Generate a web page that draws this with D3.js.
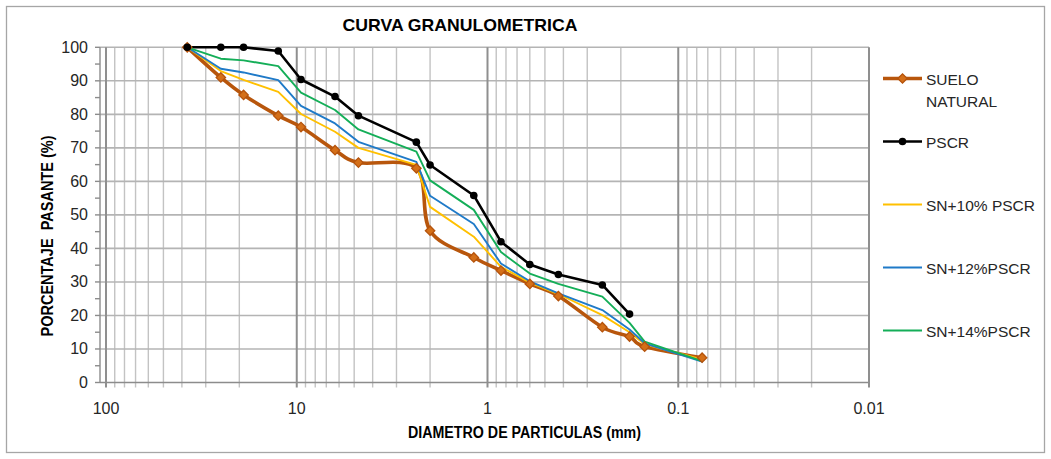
<!DOCTYPE html>
<html>
<head>
<meta charset="utf-8">
<script src="https://cdn.jsdelivr.net/npm/d3@7/dist/d3.min.js"></script>
<style>
  html, body { margin: 0; padding: 0; background: #fff; }
  svg { display: block; }
  text { font-family: "Liberation Sans", Arial, sans-serif; fill: #262626; }
  .narrow { font-family: "Liberation Sans Narrow", "Arial Narrow", "Liberation Sans", sans-serif; font-weight: bold; fill: #000; }
</style>
</head>
<body>
<svg id="chart" width="1051" height="459"></svg>
<script>
// Sieve openings (mm) and percent passing for each sample
const sieveSizes   = [37.5, 25, 19, 12.5, 9.5, 6.3, 4.75, 2.36, 2.0, 1.18, 0.85, 0.6, 0.425, 0.25, 0.18, 0.15, 0.075];
const sueloNatural = [100, 91.0, 85.8, 79.6, 76.2, 69.3, 65.6, 63.9, 45.3, 37.3, 33.4, 29.4, 25.8, 16.5, 13.7, 10.7, 7.4];
const pscr         = [100, 100, 100, 98.9, 90.4, 85.3, 79.6, 71.7, 64.9, 55.8, 42.0, 35.2, 32.2, 29.1, 20.4];
const sn10         = [100, 92.9, 90.3, 86.7, 80.1, 74.8, 70.0, 64.9, 52.4, 43.5, 34.5, 29.8, 26.4, 20.1, 15.0, 11.4, 6.9];
const sn12         = [100, 93.6, 92.5, 90.2, 82.5, 77.3, 71.8, 65.8, 55.7, 47.3, 35.5, 30.2, 26.6, 21.6, 15.8, 11.7, 6.2];
const sn14         = [100, 96.6, 96.1, 94.4, 86.5, 81.3, 75.5, 68.9, 60.3, 51.5, 38.9, 32.5, 29.4, 25.6, 17.8, 12.2, 6.4];

const seriesNames  = ["SUELO NATURAL", "PSCR", "SN+10% PSCR", "SN+12%PSCR", "SN+14%PSCR"];
const xTickLabels  = ["100", "10", "1", "0.1", "0.01"];
const yTickValues  = [0, 10, 20, 30, 40, 50, 60, 70, 80, 90, 100];

const chartTitle = "CURVA GRANULOMETRICA";
const xTitle = "DIAMETRO DE PARTICULAS (mm)";
const yTitle = "PORCENTAJE  PASANTE (%)";

const svg = d3.select("#chart");

// frame of the whole chart
svg.append("rect")
  .attr("x", 6.5).attr("y", 6.5).attr("width", 1038).attr("height", 446)
  .attr("fill", "#fff").attr("stroke", "#a6a6a6").attr("stroke-width", 1.3);

const plot = { left: 100, right: 869, top: 47.3, bottom: 382.5 };

const x = d3.scaleLog().domain([100, 0.01]).range([106, plot.right]);
const y = d3.scaleLinear().domain([0, 100]).range([plot.bottom, plot.top]);

// vertical grid: minor (2..9 of each decade) and major (decades)
const majors = xTickLabels.map(Number);
const minors = [];
[0.01, 0.1, 1, 10].forEach(dec => { for (let m = 2; m <= 9; m++) minors.push(dec * m); });

const grid = svg.append("g");
grid.selectAll(".vmin").data(minors).join("line")
  .attr("x1", d => x(d)).attr("x2", d => x(d))
  .attr("y1", plot.top).attr("y2", plot.bottom + 5)
  .attr("stroke", "#c3c3c3").attr("stroke-width", 1.4);

// horizontal grid
grid.selectAll(".h").data(yTickValues).join("line")
  .attr("x1", plot.left).attr("x2", plot.right)
  .attr("y1", d => y(d)).attr("y2", d => y(d))
  .attr("stroke", d => d === 0 ? "#8c8c8c" : "#b4b4b4").attr("stroke-width", 1.6);

grid.selectAll(".vmaj").data(majors).join("line")
  .attr("x1", d => x(d)).attr("x2", d => x(d))
  .attr("y1", plot.top).attr("y2", plot.bottom + 5)
  .attr("stroke", "#8f8f8f").attr("stroke-width", 2);

// y axis line and ticks (every 5)
grid.append("line")
  .attr("x1", plot.left).attr("x2", plot.left)
  .attr("y1", plot.top).attr("y2", plot.bottom)
  .attr("stroke", "#8c8c8c").attr("stroke-width", 1.4);
grid.selectAll(".yt").data(d3.range(0, 101, 5)).join("line")
  .attr("x1", plot.left - 5).attr("x2", plot.left)
  .attr("y1", d => y(d)).attr("y2", d => y(d))
  .attr("stroke", "#8c8c8c").attr("stroke-width", 1.4);

// tick labels
svg.append("g").selectAll("text").data(yTickValues).join("text")
  .attr("x", 88).attr("y", d => y(d))
  .attr("text-anchor", "end").attr("dominant-baseline", "central")
  .style("font-size", "16px").text(d => d);

svg.append("g").selectAll("text").data(xTickLabels).join("text")
  .attr("x", d => x(+d)).attr("y", 414)
  .attr("text-anchor", "middle")
  .style("font-size", "16px").text(d => d);

// titles
svg.append("text").attr("class", "narrow")
  .attr("x", 460).attr("y", 31).attr("text-anchor", "middle")
  .attr("textLength", 235).attr("lengthAdjust", "spacingAndGlyphs")
  .style("font-size", "17px").text(chartTitle);

svg.append("text").attr("class", "narrow")
  .attr("x", 524.5).attr("y", 438).attr("text-anchor", "middle")
  .attr("textLength", 233).attr("lengthAdjust", "spacingAndGlyphs")
  .style("font-size", "16px").text(xTitle);

svg.append("text").attr("class", "narrow")
  .attr("transform", "translate(53,236) rotate(-90)")
  .attr("text-anchor", "middle")
  .attr("textLength", 201).attr("lengthAdjust", "spacingAndGlyphs")
  .style("font-size", "16px").style("white-space", "pre").text(yTitle);

// series
const toPoints = vals => vals.map((v, i) => [sieveSizes[i], v]);
const straight = d3.line().x(d => x(d[0])).y(d => y(d[1]));
const smooth = d3.line().x(d => x(d[0])).y(d => y(d[1])).curve(d3.curveCardinal.tension(0));

const lines = svg.append("g").attr("fill", "none").attr("stroke-linejoin", "round").attr("stroke-linecap", "round");

lines.append("path").attr("d", smooth(toPoints(sueloNatural)))
  .attr("stroke", "#b8560c").attr("stroke-width", 3.6);
lines.append("path").attr("d", straight(toPoints(pscr)))
  .attr("stroke", "#000").attr("stroke-width", 2.6);
lines.append("path").attr("d", straight(toPoints(sn10)))
  .attr("stroke", "#ffc000").attr("stroke-width", 1.9);
lines.append("path").attr("d", straight(toPoints(sn12)))
  .attr("stroke", "#1f7ac8").attr("stroke-width", 1.9);
lines.append("path").attr("d", straight(toPoints(sn14)))
  .attr("stroke", "#14ae58").attr("stroke-width", 1.9);

// diamond marker: a square turned 45 degrees
const diamondPath = d3.symbol().type(d3.symbolSquare).size(44)();

svg.append("g").selectAll("path").data(toPoints(sueloNatural)).join("path")
  .attr("transform", d => `translate(${x(d[0])},${y(d[1])}) rotate(45)`)
  .attr("d", diamondPath)
  .attr("fill", "#d46f18").attr("stroke", "#b5530c").attr("stroke-width", 1.3);

svg.append("g").selectAll("circle").data(toPoints(pscr)).join("circle")
  .attr("cx", d => x(d[0])).attr("cy", d => y(d[1])).attr("r", 3.8)
  .attr("fill", "#000");

// legend
const legendRows = [
  { name: seriesNames[0], color: "#b8560c", w: 3.6, marker: "diamond", y: 78.5 },
  { name: seriesNames[1], color: "#000", w: 2.6, marker: "circle", y: 141.5 },
  { name: seriesNames[2], color: "#ffc000", w: 1.9, y: 204.5 },
  { name: seriesNames[3], color: "#1f7ac8", w: 1.9, y: 267.5 },
  { name: seriesNames[4], color: "#14ae58", w: 1.9, y: 330.5 }
];
const lg = svg.append("g");
legendRows.forEach(r => {
  lg.append("line").attr("x1", 883).attr("x2", 922).attr("y1", r.y).attr("y2", r.y)
    .attr("stroke", r.color).attr("stroke-width", r.w);
  if (r.marker === "diamond") {
    lg.append("path").attr("transform", `translate(902.5,${r.y}) rotate(45)`)
      .attr("d", diamondPath)
      .attr("fill", "#d46f18").attr("stroke", "#b5530c").attr("stroke-width", 1.3);
  } else if (r.marker === "circle") {
    lg.append("circle").attr("cx", 902.5).attr("cy", r.y).attr("r", 3.8).attr("fill", "#000");
  }
  const words = r.name === "SUELO NATURAL" ? ["SUELO", "NATURAL"] : [r.name];
  words.forEach((w, i) => {
    lg.append("text").attr("x", 926).attr("y", r.y + 6 + i * 22.7)
      .style("font-size", "15.5px").text(w);
  });
});
</script>
</body>
</html>
